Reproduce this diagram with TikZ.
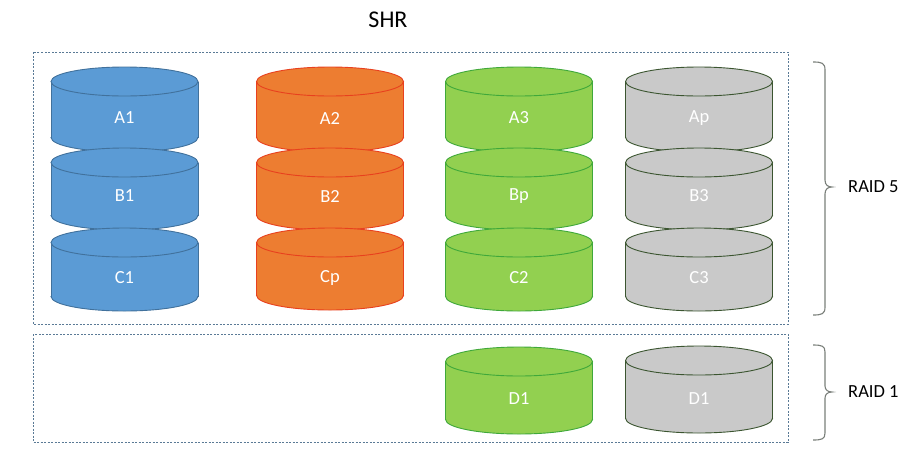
\documentclass[tikz,border=0pt]{standalone}
\usepackage{fontspec}
\setmainfont{Carlito}
\definecolor{bfill}{HTML}{5B9BD5}
\definecolor{bdraw}{HTML}{41719C}
\definecolor{ofill}{HTML}{ED7D31}
\definecolor{odraw}{HTML}{E8401E}
\definecolor{gfill}{HTML}{92D050}
\definecolor{gdraw}{HTML}{3FA83A}
\definecolor{sfill}{HTML}{C9C9C9}
\definecolor{sdraw}{HTML}{3B5530}
\definecolor{boxc}{HTML}{5A7A96}
\definecolor{bracec}{HTML}{7A7F7A}
\newcommand\drawdisk[8]{%
  \pgfmathsetmacro\ctop{#3+14.5}%
  \pgfmathsetmacro\cbot{#4-14.5}%
  \fill[#5] (#2-73.5,\ctop) rectangle (#2+73.5,\cbot);
  \fill[#5] (#2,\cbot) ellipse[x radius=73.5pt,y radius=14.5pt];
  \begin{scope}
    \clip (#2-76,\cbot) rectangle (#2+76,#4+3);
    \draw[#6,line width=0.9pt] (#2,\cbot) ellipse[x radius=73.5pt,y radius=14.5pt];
  \end{scope}
  \draw[#6,line width=0.9pt] (#2-73.5,\ctop) -- (#2-73.5,\cbot) (#2+73.5,\ctop) -- (#2+73.5,\cbot);
  \filldraw[fill=#5,draw=#6,line width=0.9pt] (#2,\ctop) ellipse[x radius=73.5pt,y radius=14.5pt];
  \node[lbl] (#1) at (#2,#8) {#7};
}
\begin{document}
\begin{tikzpicture}[x=1pt,y=-1pt,
  lbl/.style={text=white,font=\fontsize{18.5}{20}\selectfont,inner sep=0pt},
  groupbox/.style={draw=boxc,line width=0.6pt,dash pattern=on 2pt off 1.5pt},
  brace/.style={draw=bracec,line width=1.1pt},
  side/.style={font=\fontsize{18.5}{20}\selectfont,anchor=west,inner sep=0pt}]
\useasboundingbox (0,0) rectangle (915,472);
\node[font=\fontsize{24}{26}\selectfont,inner sep=0pt] (title) at (388,20) {SHR};
\draw[groupbox] (33,52) rectangle (788,324);
\draw[groupbox] (33,334) rectangle (788,442);
% column 1
\drawdisk{a1}{124.5}{67}{152}{bfill}{bdraw}{A1}{118}
\drawdisk{b1}{124.5}{148}{230}{bfill}{bdraw}{B1}{196}
\drawdisk{c1}{124.5}{228}{311}{bfill}{bdraw}{C1}{278}
% column 2
\drawdisk{a2}{330}{67}{152}{ofill}{odraw}{A2}{118}
\drawdisk{b2}{330}{148}{230}{ofill}{odraw}{B2}{196}
\drawdisk{cp}{330}{228}{310}{ofill}{odraw}{Cp}{278}
% column 3
\drawdisk{a3}{519}{67}{152}{gfill}{gdraw}{A3}{118}
\drawdisk{bp}{519}{148}{230}{gfill}{gdraw}{Bp}{196}
\drawdisk{c2}{519}{228}{311}{gfill}{gdraw}{C2}{278}
% column 4
\drawdisk{ap}{699}{67}{152}{sfill}{sdraw}{Ap}{118}
\drawdisk{b3}{699}{148}{230}{sfill}{sdraw}{B3}{196}
\drawdisk{c3}{699}{228}{311}{sfill}{sdraw}{C3}{278}
% raid 1
\drawdisk{d1g}{519}{347}{434}{gfill}{gdraw}{D1}{399}
\drawdisk{d1s}{699}{346}{433}{sfill}{sdraw}{D1}{399}
% braces
\draw[brace] (813,62) .. controls (822,62) and (825,63) .. (825,70)
  -- (825,180) .. controls (825,185) and (828,187) .. (832,187)
  .. controls (828,187) and (825,189) .. (825,194)
  -- (825,307) .. controls (825,314) and (822,315) .. (813,315);
\draw[brace] (813,345) .. controls (822,345) and (825,346) .. (825,352)
  -- (825,386) .. controls (825,390) and (828,392) .. (832,392)
  .. controls (828,392) and (825,394) .. (825,398)
  -- (825,433) .. controls (825,439) and (822,440) .. (813,440);
\node[side] (raid5) at (848,187) {RAID 5};
\node[side] (raid1) at (848,392) {RAID 1};
\end{tikzpicture}
\end{document}
